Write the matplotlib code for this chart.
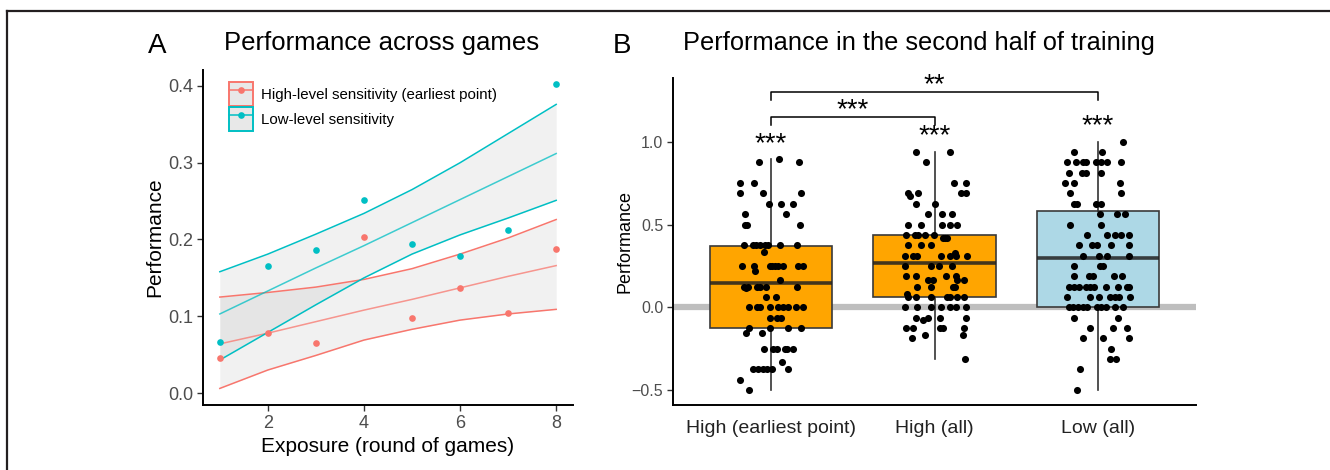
import numpy as np
import matplotlib.pyplot as plt
from matplotlib.lines import Line2D
from matplotlib.patches import Patch

plt.rcParams['font.family'] = ['Liberation Sans', 'DejaVu Sans']

# ---------------- Panel A data ----------------
rounds = [1, 2, 3, 4, 5, 6, 7, 8]
high_pts = [0.045, 0.078, 0.065, 0.203, 0.098, 0.137, 0.104, 0.187]
low_pts = [0.066, 0.166, 0.186, 0.252, 0.194, 0.179, 0.213, 0.402]

high_fit = [0.064, 0.078, 0.093, 0.108, 0.122, 0.137, 0.152, 0.166]
high_lo = [0.006, 0.030, 0.049, 0.069, 0.083, 0.095, 0.103, 0.109]
high_hi = [0.125, 0.131, 0.138, 0.148, 0.162, 0.181, 0.202, 0.226]

low_fit = [0.103, 0.133, 0.163, 0.192, 0.222, 0.252, 0.282, 0.312]
low_lo = [0.043, 0.079, 0.115, 0.150, 0.181, 0.206, 0.228, 0.251]
low_hi = [0.158, 0.181, 0.207, 0.234, 0.265, 0.300, 0.338, 0.376]

# ---------------- Panel B data ----------------
groups = ["High (earliest point)", "High (all)", "Low (all)"]
box_med = [0.146, 0.267, 0.299]
box_q1 = [-0.122, 0.064, 0.0]
box_q3 = [0.369, 0.438, 0.580]
box_lo = [-0.5, -0.3125, -0.5]
box_hi = [0.896, 0.9375, 1.0]

# jittered points: horizontal offset from the group centre, and value
g1_dx = [-0.075, 0.047, 0.169, -0.193, -0.102, -0.193, -0.049, 0.181, -0.012, 0.063,
         0.134, -0.157, 0.090, -0.157, -0.149, 0.175, -0.167, -0.108, -0.092, -0.067,
         -0.037, -0.016, 0.053, 0.161, -0.041, -0.175, -0.104, -0.008, 0.004, 0.024,
         0.045, 0.075, 0.163, 0.193, -0.098, 0.053, -0.165, -0.144, -0.085, -0.067,
         -0.033, 0.157, -0.155, -0.033, 0.031, -0.138, -0.083, -0.067, -0.006, 0.045,
         0.075, 0.106, 0.153, 0.193, -0.004, 0.039, 0.061, -0.134, -0.006, 0.106,
         0.183, -0.153, -0.057, -0.043, 0.012, 0.035, 0.085, 0.100, 0.132, 0.069,
         -0.112, -0.077, -0.047, -0.026, 0.008, 0.102, -0.189, -0.132]
g1_y = [0.875, 0.896, 0.875, 0.75, 0.75, 0.6875, 0.6875, 0.6875, 0.625, 0.625,
        0.625, 0.5625, 0.5625, 0.5, 0.5, 0.5, 0.375, 0.375, 0.375, 0.375,
        0.375, 0.375, 0.375, 0.375, 0.333, 0.25, 0.25, 0.25, 0.25, 0.25,
        0.25, 0.25, 0.25, 0.25, 0.222, 0.163, 0.125, 0.125, 0.125, 0.125,
        0.125, 0.125, 0.115, 0.0625, 0.0625, 0.0, 0.0, 0.0, 0.0, 0.0,
        0.0, 0.0, 0.0, 0.0, -0.0625, -0.0625, -0.0625, -0.125, -0.125, -0.125,
        -0.125, -0.155, -0.155, -0.25, -0.25, -0.25, -0.25, -0.25, -0.25, -0.33,
        -0.375, -0.375, -0.375, -0.375, -0.375, -0.375, -0.44, -0.5]

g2_dx = [-0.114, 0.096, -0.051, 0.118, 0.191, -0.161, -0.151, -0.100, 0.165, 0.195,
         -0.112, 0.002, -0.039, 0.045, 0.106, -0.165, -0.081, 0.045, 0.092, 0.136,
         -0.173, -0.122, -0.102, -0.061, -0.004, 0.051, 0.065, 0.077, -0.163, -0.081,
         -0.022, -0.183, -0.130, -0.110, 0.041, 0.092, 0.132, 0.197, 0.126, -0.181,
         -0.024, 0.028, 0.108, -0.175, -0.114, 0.071, 0.130, -0.039, -0.010, 0.140,
         0.181, -0.110, -0.022, 0.116, 0.126, -0.169, -0.163, -0.112, -0.024, 0.077,
         0.092, 0.140, 0.179, -0.181, -0.108, -0.024, 0.041, 0.092, 0.132, 0.193,
         -0.112, -0.039, 0.033, 0.195, -0.071, -0.173, -0.132, 0.033, 0.055, 0.181,
         -0.140, -0.061, 0.177, 0.187]
g2_y = [0.9375, 0.9375, 0.875, 0.75, 0.75, 0.6875, 0.675, 0.6875, 0.6875, 0.6875,
        0.625, 0.625, 0.5625, 0.5625, 0.5625, 0.5, 0.5, 0.5, 0.5, 0.5,
        0.4375, 0.4375, 0.4375, 0.4375, 0.4375, 0.42, 0.42, 0.42, 0.375, 0.375,
        0.375, 0.3125, 0.3125, 0.3125, 0.3125, 0.3125, 0.3125, 0.3125, 0.33, 0.25,
        0.25, 0.25, 0.25, 0.1875, 0.1875, 0.1875, 0.1875, 0.167, 0.167, 0.167,
        0.167, 0.125, 0.125, 0.125, 0.125, 0.083, 0.0625, 0.0625, 0.0625, 0.0625,
        0.0625, 0.0625, 0.0625, 0.0, 0.0, 0.0, 0.0, 0.0, 0.0, 0.0,
        -0.0625, -0.0625, -0.0625, -0.0625, -0.078, -0.125, -0.125, -0.125, -0.125, -0.125,
        -0.185, -0.165, -0.165, -0.3125]

g3_dx = [0.155, -0.149, 0.026, -0.191, -0.134, -0.094, -0.073, -0.012, 0.018, 0.053,
         0.142, -0.175, -0.100, -0.073, 0.016, -0.199, -0.149, 0.136, -0.171, 0.142,
         -0.144, -0.130, -0.012, 0.018, 0.010, 0.116, 0.167, -0.173, 0.020, -0.065,
         0.053, 0.104, 0.144, 0.191, -0.114, -0.037, -0.008, 0.081, 0.187, -0.094,
         0.004, 0.057, 0.187, -0.144, 0.010, 0.031, -0.146, -0.057, -0.033, 0.100,
         0.146, -0.175, -0.144, -0.114, -0.073, -0.049, -0.026, 0.047, 0.124, 0.175,
         0.191, -0.189, -0.049, 0.008, 0.075, 0.104, 0.130, 0.195, -0.179, -0.155,
         -0.124, -0.094, -0.069, -0.008, 0.016, 0.051, 0.104, 0.151, -0.146, 0.124,
         -0.049, 0.090, 0.175, -0.090, 0.031, 0.191, 0.079, 0.075, 0.108, -0.110,
         -0.128]
g3_y = [1.0, 0.9375, 0.9375, 0.875, 0.875, 0.875, 0.875, 0.875, 0.875, 0.875,
        0.875, 0.8125, 0.8125, 0.8125, 0.8125, 0.75, 0.75, 0.75, 0.6875, 0.6875,
        0.625, 0.625, 0.625, 0.625, 0.5625, 0.5625, 0.5625, 0.5, 0.5, 0.4375,
        0.4375, 0.4375, 0.4375, 0.4375, 0.375, 0.375, 0.375, 0.375, 0.375, 0.3125,
        0.3125, 0.3125, 0.3125, 0.25, 0.25, 0.25, 0.1875, 0.1875, 0.1875, 0.1875,
        0.1875, 0.125, 0.125, 0.125, 0.125, 0.125, 0.125, 0.125, 0.125, 0.125,
        0.125, 0.0625, 0.0625, 0.0625, 0.0625, 0.0625, 0.0625, 0.0625, 0.0, 0.0,
        0.0, 0.0, 0.0, 0.0, 0.0, 0.0, 0.0, 0.0, -0.0625, -0.0625,
        -0.125, -0.125, -0.125, -0.1875, -0.1875, -0.1875, -0.25, -0.3125, -0.3125, -0.375,
        -0.5]

# significance marks
star_y = [0.94, 0.99, 1.05]
bracket_pairs = [(1, 2), (1, 3)]
bracket_y = [1.148, 1.298]
bracket_drop = 0.045
bracket_labels = ["***", "**"]

SALMON = "#F8766D"
TEAL = "#00BFC4"
DARK = "#333333"

fig = plt.figure(figsize=(13.3, 4.7), dpi=100)

# outer frame (top and left only)
fig.add_artist(Line2D([7 / 1330, 1], [1 - 11 / 470] * 2, transform=fig.transFigure,
                      color="#231f20", lw=1.6))
fig.add_artist(Line2D([7 / 1330] * 2, [0, 1 - 11 / 470], transform=fig.transFigure,
                      color="#231f20", lw=1.6))

# ---------------- Panel A ----------------
axA = fig.add_axes([203 / 1330, 65 / 470, 370 / 1330, 335 / 470])
axA.fill_between(rounds, high_lo, high_hi, color="#999999", alpha=0.13, lw=0)
axA.fill_between(rounds, low_lo, low_hi, color="#999999", alpha=0.13, lw=0)
for lo, hi, fit, c in [(high_lo, high_hi, high_fit, SALMON), (low_lo, low_hi, low_fit, TEAL)]:
    axA.plot(rounds, lo, color=c, lw=1.1)
    axA.plot(rounds, hi, color=c, lw=1.1)
    axA.plot(rounds, fit, color=c, lw=1.1, alpha=0.75)
axA.plot(rounds, high_pts, "o", color=SALMON, ms=4.8, mec="none")
axA.plot(rounds, low_pts, "o", color=TEAL, ms=4.8, mec="none")

axA.set_xlim(0.65, 8.35)
axA.set_ylim(-0.0156, 0.4208)
axA.set_xticks([2, 4, 6, 8])
axA.set_yticks([0.0, 0.1, 0.2, 0.3, 0.4])
axA.set_yticklabels(["0.0", "0.1", "0.2", "0.3", "0.4"])
for s in ["top", "right"]:
    axA.spines[s].set_visible(False)
for s in ["left", "bottom"]:
    axA.spines[s].set_linewidth(1.4)
axA.tick_params(length=4, width=1, color=DARK, labelcolor="#4D4D4D", labelsize=13, pad=3)
axA.set_xlabel("Exposure (round of games)", fontsize=15, labelpad=4)
axA.set_ylabel("Performance", fontsize=15)
axA.yaxis.set_label_coords(-0.105, 0.5)

handles = [
    (Patch(facecolor="#E8E8E8", edgecolor=SALMON, lw=1.4),
     Line2D([], [], color=SALMON, lw=1.1, marker="o", ms=4.8, mec="none")),
    (Patch(facecolor="#E8E8E8", edgecolor=TEAL, lw=1.4),
     Line2D([], [], color=TEAL, lw=1.1, marker="o", ms=4.8, mec="none")),
]
axA.legend(handles, ["High-level sensitivity (earliest point)", "Low-level sensitivity"],
           loc="upper left", bbox_to_anchor=(0.07, 0.964), frameon=False, fontsize=10.8,
           handlelength=1.6, handleheight=2.08, labelspacing=0.06, handletextpad=0.55,
           borderpad=0, borderaxespad=0)

# ---------------- Panel B ----------------
axB = fig.add_axes([673 / 1330, 65 / 470, 523 / 1330, 327 / 470])
axB.axhline(0, color="#BEBEBE", lw=4.5, zorder=0.5)
stats = []
for i in range(3):
    stats.append(dict(med=box_med[i], q1=box_q1[i], q3=box_q3[i],
                      whislo=box_lo[i], whishi=box_hi[i], fliers=[]))
bp = axB.bxp(stats, positions=[1, 2, 3], widths=0.75, patch_artist=True, showcaps=False,
             boxprops=dict(edgecolor="#3a3a3a", lw=1.2),
             whiskerprops=dict(color=DARK, lw=1.2),
             medianprops=dict(color="#222222", lw=2.6, alpha=0.85))
for patch, c in zip(bp["boxes"], ["#FFA500", "#FFA500", "#ADD8E6"]):
    patch.set_facecolor(c)
for k, (dx, yy) in enumerate([(g1_dx, g1_y), (g2_dx, g2_y), (g3_dx, g3_y)]):
    axB.scatter(np.array(dx) + k + 1, yy, s=26, color="black", lw=0, zorder=3)

for k in range(3):
    axB.text(k + 1, star_y[k], "***", ha="center", va="baseline", fontsize=20)
for (a, b), yb, lab in zip(bracket_pairs, bracket_y, bracket_labels):
    axB.plot([a, a, b, b], [yb - bracket_drop, yb, yb, yb - bracket_drop], color="black", lw=1.1)
    axB.text((a + b) / 2, yb, lab, ha="center", va="baseline", fontsize=20)

axB.set_xlim(0.4, 3.6)
axB.set_ylim(-0.59, 1.385)
axB.set_xticks([1, 2, 3])
axB.set_xticklabels(groups)
axB.set_yticks([-0.5, 0.0, 0.5, 1.0])
axB.set_yticklabels(["\u22120.5", "0.0", "0.5", "1.0"])
for s in ["top", "right"]:
    axB.spines[s].set_visible(False)
for s in ["left", "bottom"]:
    axB.spines[s].set_linewidth(1.4)
axB.tick_params(axis="y", length=4, width=1, color=DARK, labelcolor="#4D4D4D", labelsize=11.5, pad=3)
axB.tick_params(axis="x", length=0, labelcolor="#222222", labelsize=14, pad=11)
axB.set_ylabel("Performance", fontsize=13)
axB.yaxis.set_label_coords(-0.075, 0.5)

# panel letters and titles
fig.text(157 / 1330, 1 - 53 / 470, "A", fontsize=20, ha="center", va="baseline")
fig.text(224 / 1330, 1 - 50 / 470, "Performance across games", fontsize=18.5, va="baseline")
fig.text(622 / 1330, 1 - 53 / 470, "B", fontsize=20, ha="center", va="baseline")
fig.text(683 / 1330, 1 - 50 / 470, "Performance in the second half of training", fontsize=18.3, va="baseline")

fig.savefig("out.png", dpi=100)
